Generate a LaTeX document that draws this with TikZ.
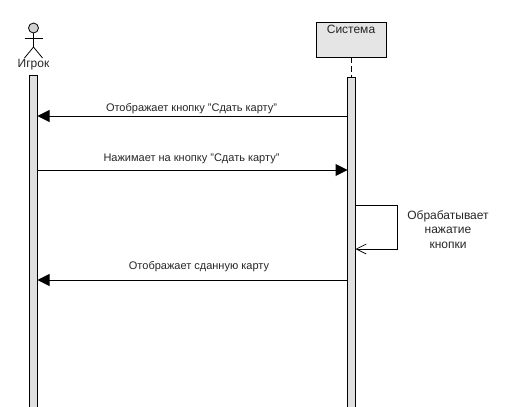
\documentclass[tikz,border=0pt]{standalone}
\usepackage{fontspec}
\setmainfont{Liberation Sans}
\usetikzlibrary{arrows.meta}
\tikzset{
    lifebar/.style={draw,line width=1pt,fill=black!12,minimum width=8pt,inner sep=0pt,anchor=north},
    msg/.style={font=\fontsize{11pt}{13pt}\selectfont,text=black!85,inner sep=0pt},
    call/.style={line width=1pt,-{Triangle[length=12pt,width=12pt]}},
    reply/.style={line width=0.8pt,-{Straight Barb[length=10pt,width=10pt,line width=0.7pt]}}
}
\begin{document}
\begin{tikzpicture}[x=1pt,y=-1pt]
\clip (0,0) rectangle (520,407);

% actor
\node[circle,draw,line width=0.8pt,fill=black!18,minimum size=10pt,inner sep=0pt] (head) at (33.5,28) {};
\coordinate (hip) at (33.5,47);
\coordinate (armL) at (24.5,38);
\coordinate (armR) at (42.5,38);
\coordinate (legL) at (24.5,58);
\coordinate (legR) at (42.5,58);
\draw[line width=0.8pt] (head) -- (hip);
\draw[line width=0.8pt] (armL) -- (armR);
\draw[line width=0.8pt] (legL) -- (hip) -- (legR);
\node[msg,font=\fontsize{12pt}{14pt}\selectfont] (player) at (33.5,65) {Игрок};

% system
\node[draw,line width=0.9pt,fill=black!10,minimum width=70pt,minimum height=35pt,inner sep=0pt] (system) at (351.5,39.5) {};
\node[msg,font=\fontsize{12pt}{14pt}\selectfont] (systemname) at (351,29) {Система};

% lifelines
\node[lifebar,minimum height=340pt] (barA) at (33.5,75) {};
\node[lifebar,minimum height=340pt] (barB) at (351.5,77) {};
\draw[line width=0.8pt,dashed,dash pattern=on 6pt off 3pt] (system) -- (barB);

% messages
\foreach \name/\y in {a/116,b/170,c/205,d/249,e/280} {
    \coordinate (A\name) at (37.5,\y);
    \coordinate (B\name) at (347.5,\y);
    \coordinate (C\name) at (355.5,\y);
    \coordinate (D\name) at (397.5,\y);
}
\draw[call] (Ba) -- (Aa);
\draw[call] (Ab) -- (Bb);
\draw[call] (Be) -- (Ae);
\draw[reply] (Cc) -- (Dc) -- (Dd) -- (Cd);

\node[msg] (showbtn) at (191.5,109) {Отображает кнопку "Сдать карту"};
\node[msg] (press) at (191.5,159) {Нажимает на кнопку "Сдать карту"};
\node[msg] (showcard) at (199,267) {Отображает сданную карту};
\node[msg,font=\fontsize{12pt}{14.5pt}\selectfont,align=center] (handle) at (448,229.5) {Обрабатывает\\нажатие\\кнопки};
\end{tikzpicture}
\end{document}
